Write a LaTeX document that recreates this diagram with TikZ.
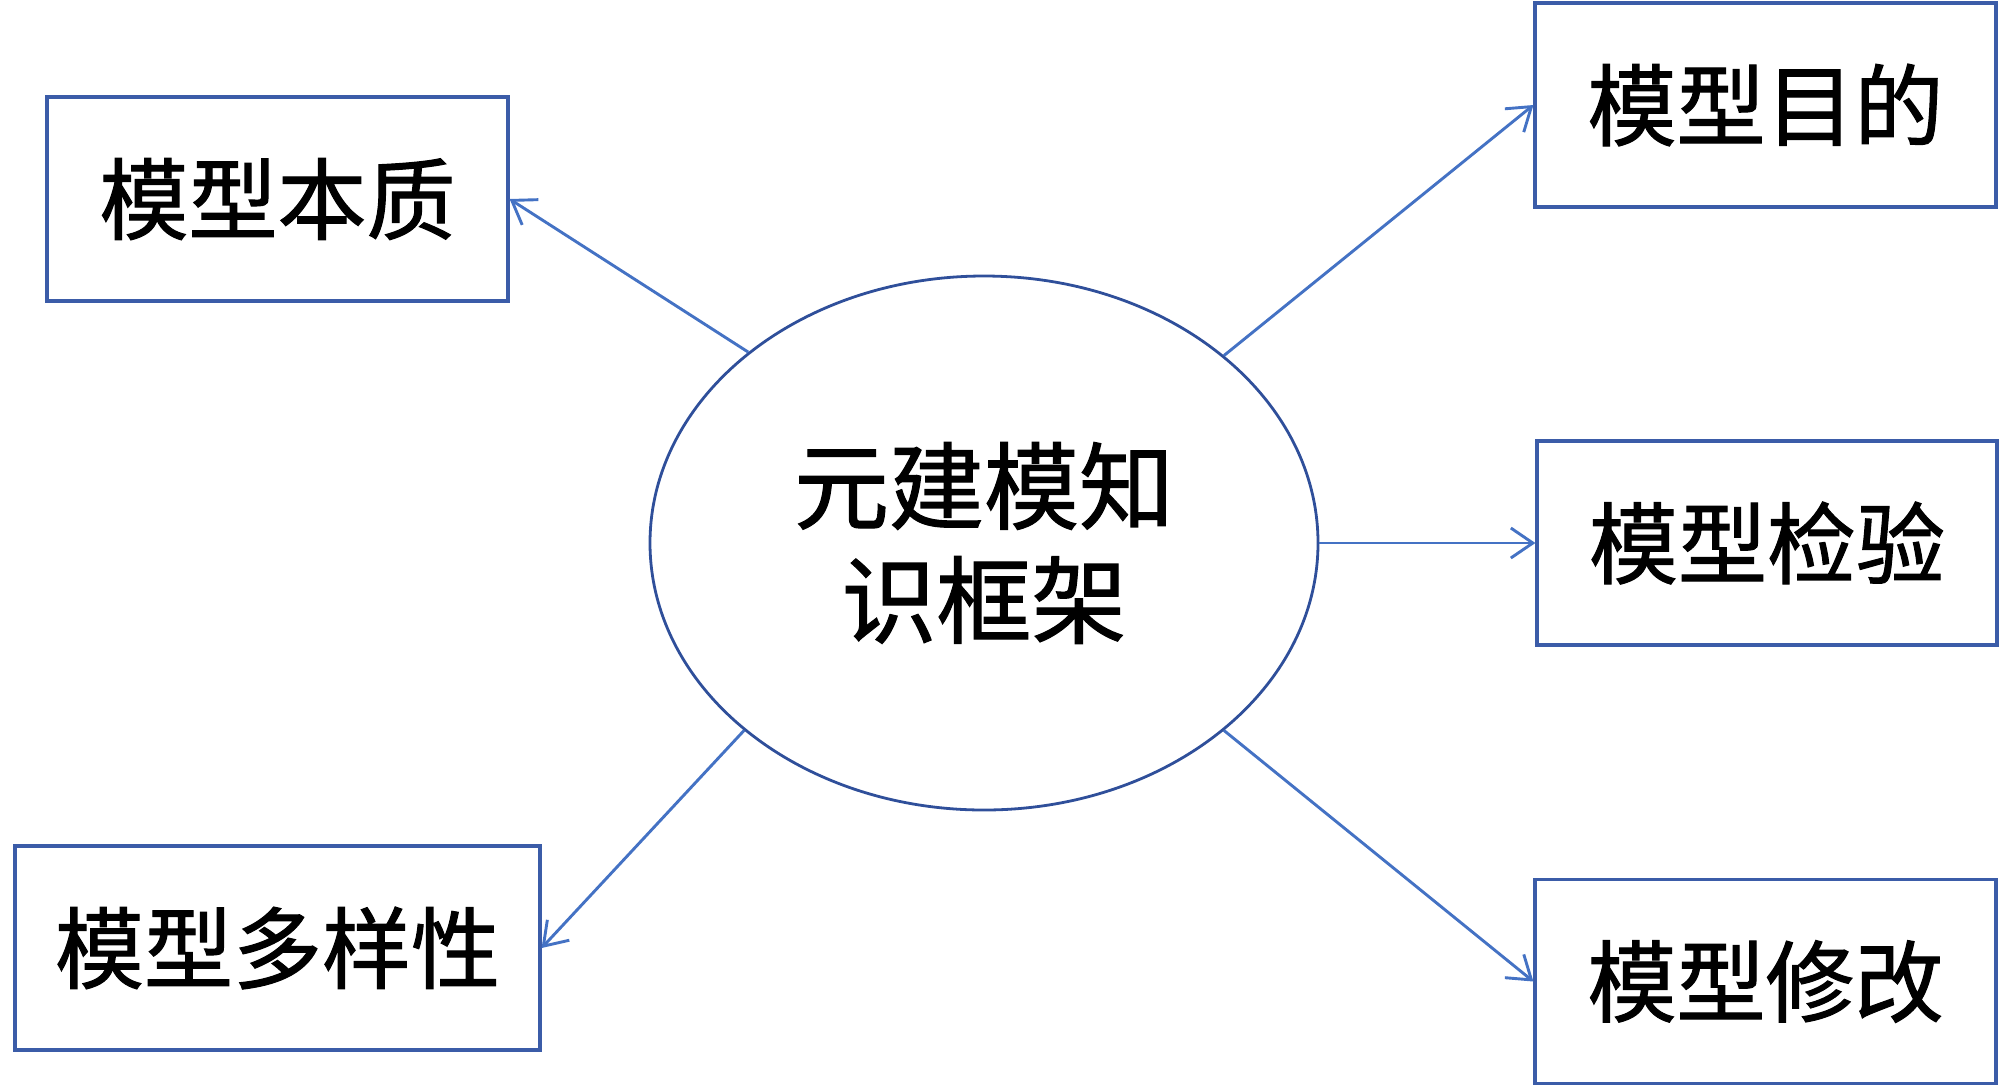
\documentclass[tikz,border=0pt]{standalone}
\usepackage{fontspec}
\setmainfont{Noto Sans CJK SC}[FakeBold=1.2]
\usetikzlibrary{arrows.meta,shapes.geometric}
\definecolor{boxblue}{HTML}{3B5CA8}
\definecolor{arrblue}{HTML}{4472C4}
\definecolor{ellblue}{HTML}{2F4F9A}
\begin{document}
\begin{tikzpicture}[x=0.5pt,y=-0.5pt,
  box/.style={draw=boxblue,line width=1.6pt,minimum height=102pt,inner sep=0pt,
    font=\fontsize{44.5pt}{53pt}\selectfont},
  hub/.style={draw=ellblue,line width=1.4pt,ellipse,minimum width=334pt,minimum height=267pt,
    inner sep=0pt,align=center,font=\fontsize{47.5pt}{57pt}\selectfont},
  arr/.style={draw=arrblue,line width=1.45pt,-{Straight Barb[length=11pt,width=15pt]}}]
\useasboundingbox (0,0) rectangle (2000,1089);
\node[hub] (e) at (984,543) {元建模知\\识框架};
\node[box,minimum width=230.5pt] (b1) at (277.5,199) {模型本质};
\node[box,minimum width=230.5pt] (b2) at (1765.5,105) {模型目的};
\node[box,minimum width=230pt] (b3) at (1767,543) {模型检验};
\node[box,minimum width=230.5pt] (b4) at (1765.5,981.5) {模型修改};
\node[box,minimum width=262.5pt] (b5) at (277.5,948) {模型多样性};
\draw[arr] (e.141.4) -- (b1.east);
\draw[arr] (e.38.6) -- (b2.west);
\draw[arr] (e.east) -- (b3.west);
\draw[arr] (e.-38.6) -- (b4.west);
\draw[arr] (e.218.6) -- (b5.east);
\end{tikzpicture}
\end{document}
